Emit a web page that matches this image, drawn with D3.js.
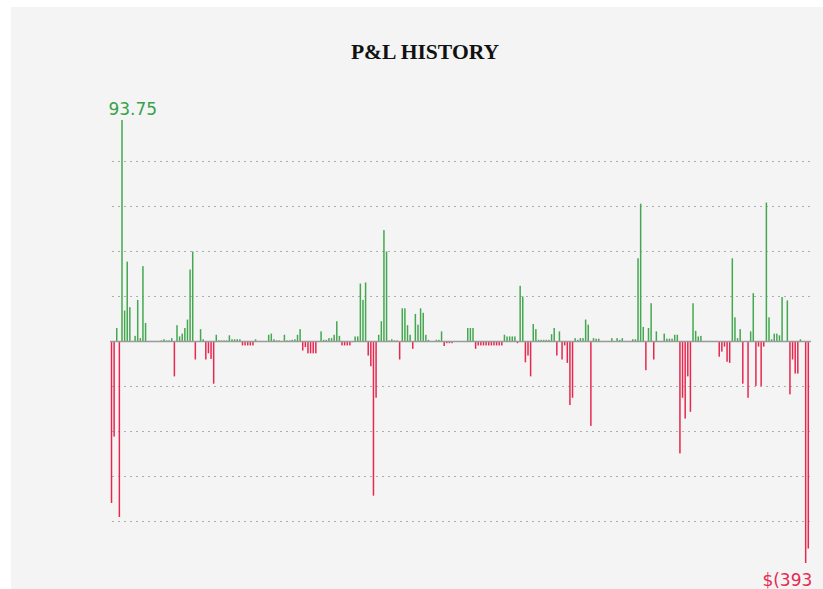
<!DOCTYPE html>
<html>
<head>
<meta charset="utf-8">
<script src="https://cdn.jsdelivr.net/npm/d3@7"></script>
<style>
  html, body { margin: 0; padding: 0; background: #ffffff; }
  svg { display: block; }
  .title { font-family: "Liberation Serif", "Times New Roman", serif; font-weight: bold; font-size: 21.6px; fill: #111; }
  .value-label { font-family: "DejaVu Sans", sans-serif; font-size: 17px; }
</style>
</head>
<body>
<div id="chart"></div>
<script>
// p&l per trade
var pnl = [
  -287, -169, 24, -312, 393.75, 55, 142, 61, 1, 10, 74, 6, 134, 33, -1, 1, 1, 1, 1, 2,
  4, 2, 2, 6, -62, 29, 9, 14, 24, 39, 128, 160, -32, 1, 22, 4, -32, -21, -31, -75,
  12, 2, 2, 2, 2, 11, 4, 4, 4, 4, -7, -7, -7, -7, -7, 4, 1, 1, 1, 1,
  12, 14, 4, 2, 2, 1, 12, 2, 2, 3, 4, 12, 22, -16, -10, -21, -21, -21, -21, -1,
  18, 3, 3, 6, 6, 12, 36, 10, -7, -7, -7, -7, -1, 9, 9, 103, 74, 105, -25, -44,
  -274, -100, 12, 36, 198, 160, 2, 4, 2, 2, -32, 59, 59, 29, 12, -13, 49, 30, 59, 51,
  12, 3, 1, 1, 3, 3, 18, -8, -3, -3, -3, 0, 0, 0, 0, 0, 24, 24, 24, -13,
  -7, -7, -7, -7, -7, -7, -7, -7, -7, -7, 12, 9, 9, 9, 9, -3, 99, 80, -37, -25,
  -62, 31, 22, 3, 3, 3, 3, 3, 13, 24, -25, 18, -32, -7, -38, -113, -100, 6, 3, 6,
  6, 39, 30, -150, 6, 5, 5, 1, 1, 1, 1, 6, 1, 6, 3, 6, 1, 1, 1, 4,
  4, 148, 245, 26, -51, 24, 68, -32, 18, 1, 1, 14, 5, 5, 5, 12, 12, -199, -100, -137,
  -62, -125, 68, 19, 9, 10, 1, 1, 1, 1, 1, 1, -27, -18, -9, -36, -38, 148, 43, 6,
  22, -75, 0, -100, 18, 86, -79, -9, -79, -9, 247, 43, 4, 14, 14, 11, 79, 0, 73, -94,
  -32, -57, -57, 4, 0, -393.75, -368
];
var trades = pnl.map(function(d, i) { return i + 1; });
var gridValues = [-320, -240, -160, -80, 80, 160, 240, 320];
var maxPnl = d3.max(pnl);
var minPnl = d3.min(pnl);

var width = 823, height = 589;
var plot = { left: 110.2, right: 809.6, top: 120, bottom: 563 };
var green = '#43a84f', red = '#e6284f';

var svg = d3.select('#chart').append('svg')
  .attr('width', width)
  .attr('height', height);

//background panel
svg.append('rect')
  .attr('x', 11).attr('y', 7)
  .attr('width', width - 11).attr('height', height - 7)
  .attr('fill', '#f4f4f4');

svg.append('text')
  .attr('class', 'title')
  .attr('x', 425).attr('y', 59)
  .attr('text-anchor', 'middle')
  .text('P&L HISTORY');

var x = d3.scaleBand()
  .domain(trades)
  .range([plot.left, plot.right])
  .paddingInner(0.43)
  .paddingOuter(0.215);

var y = d3.scaleLinear()
  .domain([-393.75, 393.75])
  .range([plot.bottom, plot.top]);

//gridlines
svg.append('g')
  .selectAll('line')
  .data(gridValues)
  .enter().append('line')
    .attr('x1', 112).attr('x2', 811)
    .attr('y1', function(d) { return y(d); })
    .attr('y2', function(d) { return y(d); })
    .attr('stroke', '#adadad')
    .attr('stroke-width', 1)
    .attr('stroke-dasharray', '2,4');

//bars
svg.append('g')
  .selectAll('rect')
  .data(pnl)
  .enter().append('rect')
    .attr('x', function(d, i) { return x(trades[i]); })
    .attr('width', x.bandwidth())
    .attr('y', function(d) { return Math.min(y(d), y(0)); })
    .attr('height', function(d) { return Math.abs(y(d) - y(0)); })
    .attr('fill', function(d) { return d < 0 ? red : green; });

//zero line
svg.append('line')
  .attr('x1', 110).attr('x2', 811)
  .attr('y1', y(0)).attr('y2', y(0))
  .attr('stroke', '#9a9a9a')
  .attr('stroke-width', 1.5);

//max / min labels, clipped to the plot area like the original
svg.append('clipPath').attr('id', 'plot-clip')
  .append('rect')
    .attr('x', 108.3).attr('y', 0)
    .attr('width', 812.5 - 108.3).attr('height', height);

var fmt = d3.format(',.2f');
var labels = svg.append('g').attr('clip-path', 'url(#plot-clip)');
var iMax = pnl.indexOf(maxPnl), iMin = pnl.indexOf(minPnl);

labels.append('text')
  .attr('class', 'value-label')
  .attr('x', x(trades[iMax]) + x.bandwidth() / 2)
  .attr('y', y(maxPnl) - 5)
  .attr('text-anchor', 'middle')
  .attr('fill', '#37a24a')
  .text('$' + fmt(maxPnl));

labels.append('text')
  .attr('class', 'value-label')
  .attr('x', x(trades[iMin]) + x.bandwidth() / 2 - 1.5)
  .attr('y', y(minPnl) + 23)
  .attr('text-anchor', 'middle')
  .attr('fill', '#e62a52')
  .text('$(' + fmt(-minPnl) + ')');
</script>
</body>
</html>
